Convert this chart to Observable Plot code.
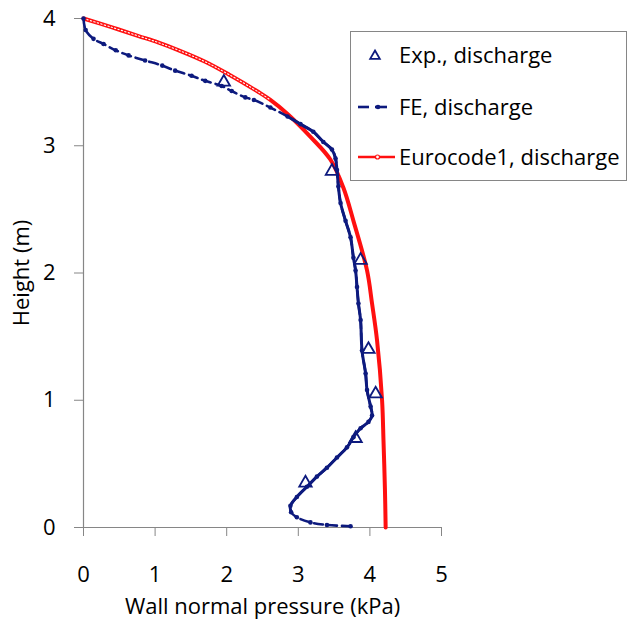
<!DOCTYPE html>
<html>
<head>
<meta charset="utf-8">
<script src="https://cdn.jsdelivr.net/npm/d3@7"></script>
<script src="https://cdn.jsdelivr.net/npm/@observablehq/plot@0.6"></script>
<style>
  body { margin: 0; background: white; font-family: "Open Sans", sans-serif; }
  #wrap { position: relative; width: 628px; height: 622px; }
  #legend { position: absolute; left: 350px; top: 31px; width: 277px; height: 150px;
            border: 1.3px solid #868686; background: white; box-sizing: border-box; }
</style>
</head>
<body>
<div id="wrap"></div>
<script>
// ---- data ----
const xTicks = [0, 1, 2, 3, 4, 5];
const yTicks = [0, 1, 2, 3, 4];

// Experimental, discharge (triangles)
const expP = [1.96, 3.47, 3.87, 3.98, 4.08, 3.80, 3.10];
const expH = [3.50, 2.80, 2.10, 1.40, 1.05, 0.70, 0.35];

// FE, discharge
const feP = [0.00, 0.03, 0.14, 0.28, 0.45, 0.63, 0.86, 1.10, 1.28, 1.51, 1.70, 1.93, 2.07, 2.26, 2.38,
             2.61, 2.85, 3.03, 3.21, 3.35, 3.47, 3.52, 3.54, 3.56, 3.59, 3.66, 3.73, 3.77, 3.80, 3.82,
             3.84, 3.87, 3.89, 3.94, 3.96, 4.01, 4.03, 3.98, 3.87, 3.77, 3.68, 3.54, 3.40, 3.26, 3.12,
             2.98, 2.89, 2.90, 2.98, 3.17, 3.40, 3.73];
const feH = [4.00, 3.91, 3.84, 3.80, 3.75, 3.71, 3.67, 3.63, 3.59, 3.55, 3.51, 3.47, 3.43, 3.38, 3.36,
             3.30, 3.23, 3.17, 3.11, 3.03, 2.97, 2.90, 2.81, 2.68, 2.55, 2.41, 2.28, 2.12, 2.02, 1.89,
             1.76, 1.63, 1.39, 1.21, 1.08, 0.95, 0.88, 0.83, 0.78, 0.71, 0.63, 0.55, 0.47, 0.40, 0.32,
             0.24, 0.17, 0.12, 0.08, 0.04, 0.02, 0.01];

// Eurocode1, discharge
const ecP = [0.00, 0.40, 0.77, 1.05, 1.33, 1.70, 2.03, 2.45, 2.61, 2.85, 3.17, 3.45, 3.63, 3.77, 3.96,
             4.03, 4.10, 4.17, 4.19, 4.21, 4.22];
const ecH = [4.00, 3.93, 3.862, 3.81, 3.75, 3.66, 3.56, 3.42, 3.36, 3.25, 3.07, 2.89, 2.67, 2.41, 2.02,
             1.76, 1.47, 1.00, 0.68, 0.30, 0.00];

const legendLabels = ["Exp., discharge", "FE, discharge", "Eurocode1, discharge"];

// ---- tables ----
const exp = expP.map((p, i) => ({p, h: expH[i]}));
const fe = feP.map((p, i) => ({p, h: feH[i]}));
const ec = ecP.map((p, i) => ({p, h: ecH[i]}));
const feMid = fe.filter(d => d.h >= 0.12 && d.h <= 3.23);
const ecTop = ec.filter(d => d.h >= 3.3);

const navy = "#0d1a7e";
const red = "#ff1010";
const gray = "#868686";
const FS = 22;

const chart = Plot.plot({
  width: 628, height: 622,
  marginLeft: 83, marginRight: 187, marginTop: 18, marginBottom: 95,
  style: {fontFamily: "Open Sans", fontSize: FS + "px", color: "#000", background: "white", overflow: "visible"},
  x: {domain: [0, 5]},
  y: {domain: [0, 4]},
  marks: [
    Plot.axisX({ticks: xTicks, tickSize: 9, tickPadding: 30, stroke: gray, fill: "#000", fontSize: FS,
                label: "Wall normal pressure (kPa)", labelAnchor: "center", labelOffset: 86, labelArrow: "none",
                tickFormat: d3.format("d")}),
    Plot.axisY({ticks: yTicks, tickSize: 9, tickPadding: 19, stroke: gray, fill: "#000", fontSize: FS,
                label: "Height (m)", labelAnchor: "center", labelOffset: 70, labelArrow: "none",
                tickFormat: d3.format("d")}),
    Plot.ruleY([0], {stroke: gray, strokeWidth: 1.2}),
    Plot.ruleX([0], {stroke: gray, strokeWidth: 1.2}),
    // Eurocode line
    Plot.line(ec, {x: "p", y: "h", stroke: red, strokeWidth: 4, curve: "catmull-rom"}),
    Plot.line(ecTop, {x: "p", y: "h", stroke: "white", strokeWidth: 1.1, strokeDasharray: "1.4 2.2", curve: "catmull-rom"}),
    // FE line
    Plot.line(fe, {x: "p", y: "h", stroke: navy, strokeWidth: 2.6, strokeDasharray: "9 5", curve: "catmull-rom"}),
    Plot.line(feMid, {x: "p", y: "h", stroke: navy, strokeWidth: 3, curve: "catmull-rom"}),
    Plot.dot(fe, {x: "p", y: "h", r: 2.3, fill: navy, stroke: "none"}),
    // Experimental triangles
    Plot.dot(exp, {x: "p", y: "h", symbol: "triangle", r: 4.6, fill: "white", fillOpacity: 0, stroke: navy, strokeWidth: 1.8})
  ]
});

const wrap = document.getElementById("wrap");
wrap.appendChild(chart);

// ---- legend ----
const legend = document.createElement("div");
legend.id = "legend";
const ns = "http://www.w3.org/2000/svg";
const lsvg = document.createElementNS(ns, "svg");
lsvg.setAttribute("width", 277); lsvg.setAttribute("height", 150);
lsvg.style.position = "absolute"; lsvg.style.left = "-1px"; lsvg.style.top = "-1px";
const rows = [24, 76, 126];
function el(name, attrs) { const e = document.createElementNS(ns, name); for (const k in attrs) e.setAttribute(k, attrs[k]); lsvg.appendChild(e); return e; }
// triangle
el("path", {d: d3.symbol(d3.symbolTriangle, 40)(), transform: `translate(25,${rows[0] + 1})`, fill: "none", stroke: navy, "stroke-width": 1.8});
// FE dashed
el("line", {x1: 8, x2: 19, y1: rows[1], y2: rows[1], stroke: navy, "stroke-width": 2.6});
el("line", {x1: 25, x2: 37, y1: rows[1], y2: rows[1], stroke: navy, "stroke-width": 2.6});
el("circle", {cx: 28, cy: rows[1], r: 2.3, fill: navy});
// Eurocode
el("line", {x1: 8, x2: 45, y1: rows[2], y2: rows[2], stroke: red, "stroke-width": 2.6});
el("circle", {cx: 27.5, cy: rows[2], r: 2, fill: "white", stroke: red, "stroke-width": 1.2});
legendLabels.forEach((t, i) => {
  const tx = el("text", {x: 49, y: rows[i], dy: "0.35em", "font-family": "Open Sans", "font-size": FS, fill: "#000"});
  tx.textContent = t;
});
legend.appendChild(lsvg);
wrap.appendChild(legend);
</script>
</body>
</html>
